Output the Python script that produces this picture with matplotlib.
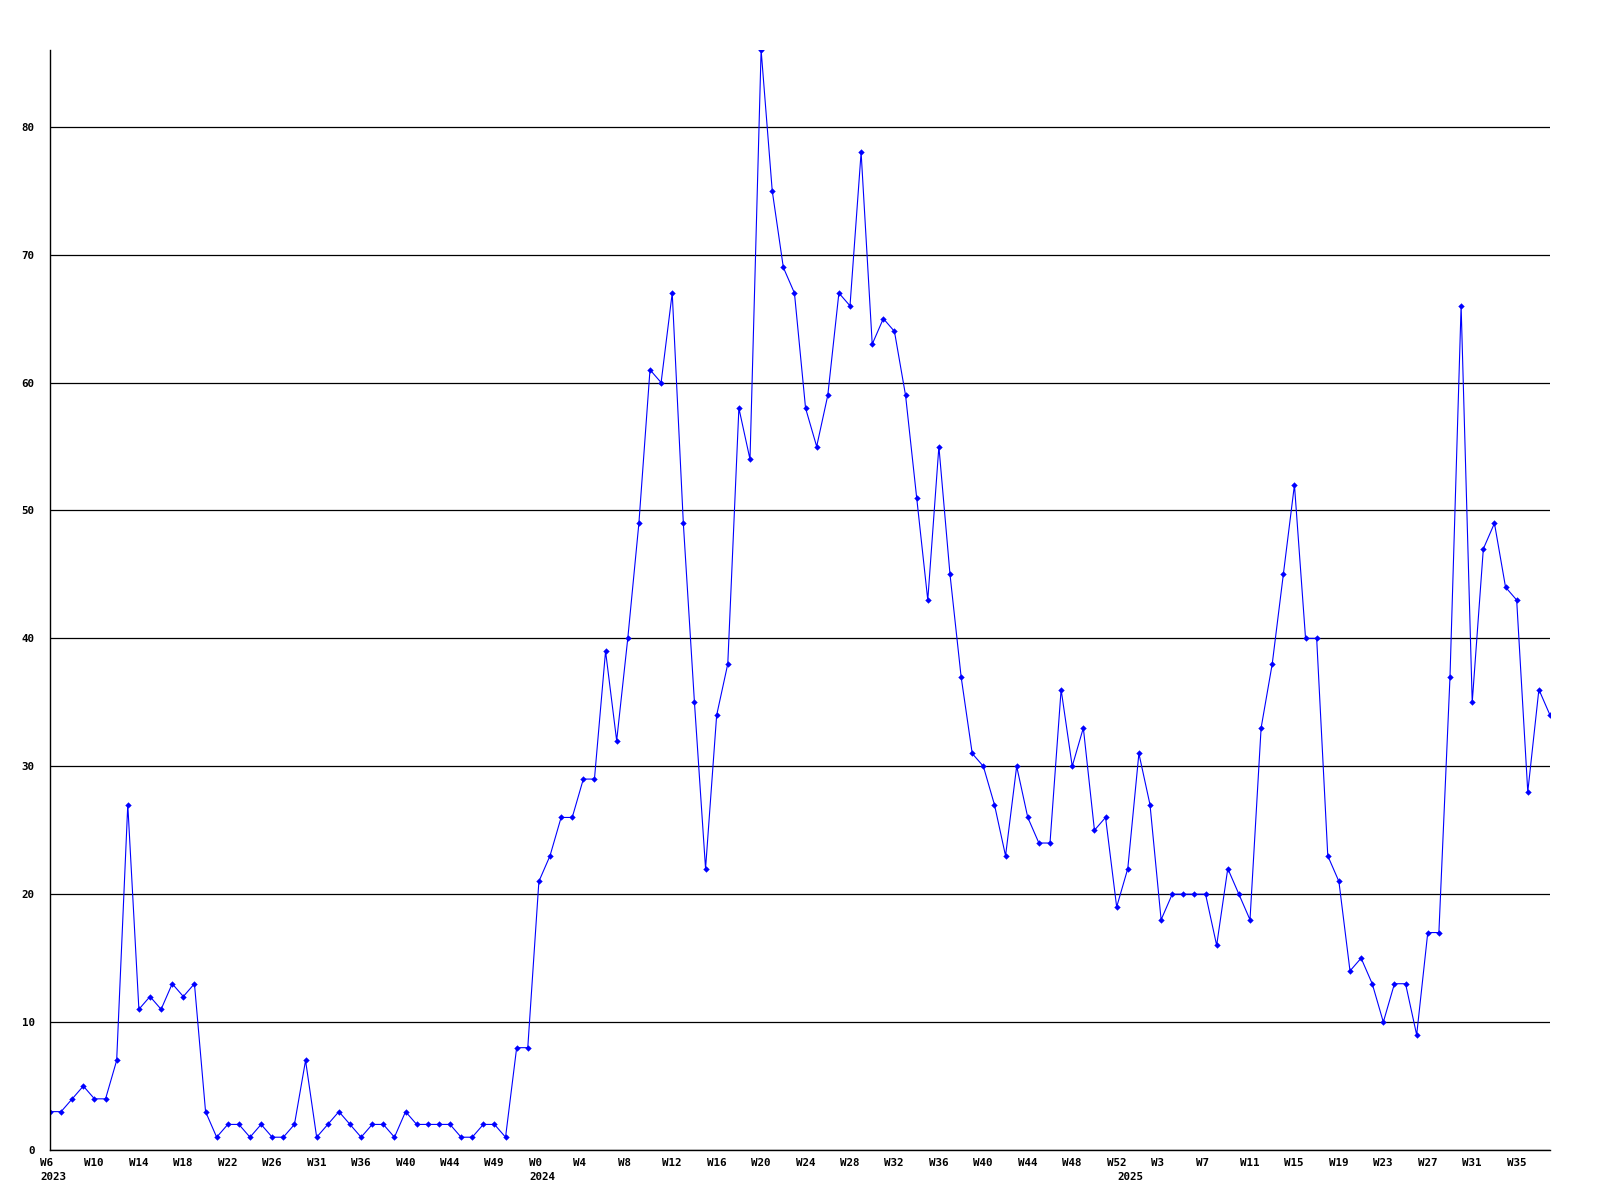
import numpy as np
import matplotlib
matplotlib.use('Agg')
import matplotlib.pyplot as plt
from matplotlib.transforms import ScaledTranslation, blended_transform_factory

# weekly counts, split by year
counts_2023 = [3, 3, 4, 5, 4, 4, 7, 27, 11, 12, 11, 13, 12, 13, 3, 1, 2, 2, 1, 2, 1, 1,
               2, 7, 1, 2, 3, 2, 1, 2, 2, 1, 3, 2, 2, 2, 2, 1, 1, 2, 2, 1, 8, 8]
counts_2024 = [21, 23, 26, 26, 29, 29, 39, 32, 40, 49, 61, 60, 67, 49, 35, 22, 34, 38,
               58, 54, 86, 75, 69, 67, 58, 55, 59, 67, 66, 78, 63, 65, 64, 59, 51, 43,
               55, 45, 37, 31, 30, 27, 23, 30, 26, 24, 24, 36, 30, 33, 25, 26, 19]
counts_2025 = [22, 31, 27, 18, 20, 20, 20, 20, 16, 22, 20, 18, 33, 38, 45, 52, 40, 40,
               23, 21, 14, 15, 13, 10, 13, 13, 9, 17, 17, 37, 66, 35, 47, 49, 44, 43,
               28, 36, 34]

week_labels = ["W6", "W10", "W14", "W18", "W22", "W26", "W31", "W36", "W40", "W44",
               "W49", "W0", "W4", "W8", "W12", "W16", "W20", "W24", "W28", "W32",
               "W36", "W40", "W44", "W48", "W52", "W3", "W7", "W11", "W15", "W19",
               "W23", "W27", "W31", "W35"]
years = ["2023", "2024", "2025"]

values = counts_2023 + counts_2024 + counts_2025
x = np.arange(len(values))
year_starts = [0, len(counts_2023), len(counts_2023) + len(counts_2024)]

font = dict(family='DejaVu Sans Mono', weight='bold', size=7.8)

fig = plt.figure(figsize=(16, 12), dpi=100)
ax = fig.add_axes([50 / 1600, 50 / 1200, 1500 / 1600, 1100 / 1200])

ax.plot(x, values, color='#0000ff', linewidth=0.8, marker='D', markersize=2.9,
        markeredgewidth=0.3)

ax.set_xlim(0, len(values) - 1)
ax.set_ylim(0, 86)
ax.set_yticks(np.arange(0, 81, 10))
ax.yaxis.grid(True, color='black', linewidth=0.9)
ax.set_axisbelow(True)

for side in ['top', 'right']:
    ax.spines[side].set_visible(False)
for side in ['left', 'bottom']:
    ax.spines[side].set_color('black')
    ax.spines[side].set_linewidth(1.0)

ax.tick_params(axis='both', length=0)
ax.tick_params(axis='y', pad=11)
ax.tick_params(axis='x', pad=5.5)

ax.set_xticks(x[::4][:len(week_labels)])
ax.set_xticklabels(week_labels)
offset = ScaledTranslation(-10 / 100, 0, fig.dpi_scale_trans)
for lbl in ax.get_xticklabels():
    lbl.set_fontproperties(matplotlib.font_manager.FontProperties(**font))
    lbl.set_horizontalalignment('left')
    lbl.set_transform(lbl.get_transform() + offset)
for lbl in ax.get_yticklabels():
    lbl.set_fontproperties(matplotlib.font_manager.FontProperties(**font))

trans = blended_transform_factory(ax.transData, ax.transAxes) + offset
for yr, start in zip(years, year_starts):
    ax.text(start, -27.5 / 1100, yr, transform=trans, ha='left', va='center',
            clip_on=False, **font)

fig.savefig('out.png', dpi=100, facecolor='white')
